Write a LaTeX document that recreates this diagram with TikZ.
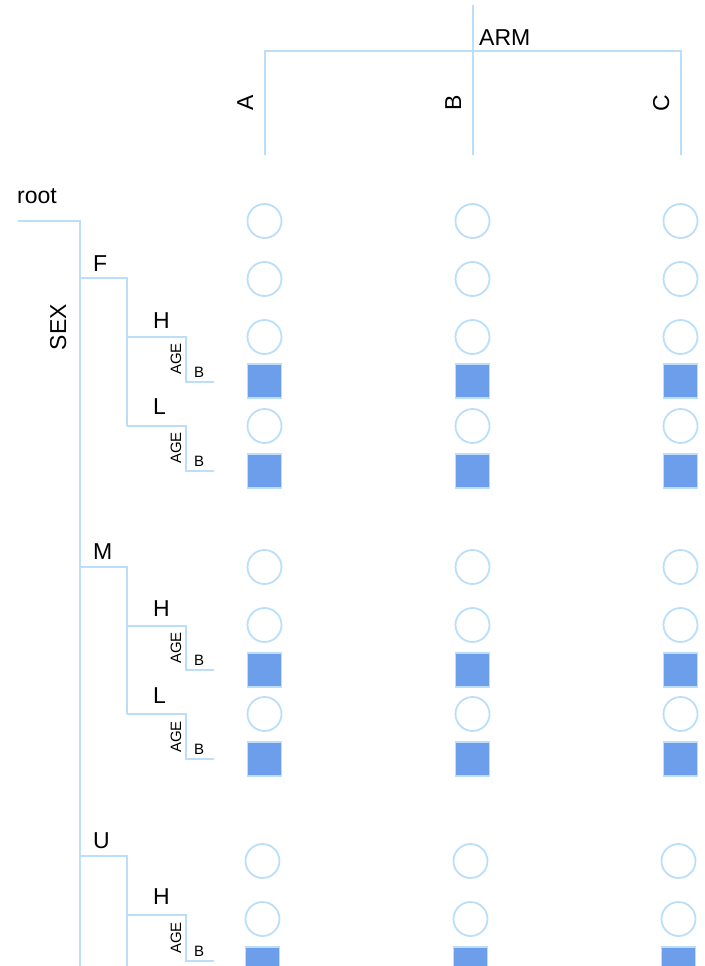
\documentclass[tikz,border=0pt]{standalone}
\usepackage{fontspec}
\setmainfont{Liberation Sans}
\definecolor{lineblue}{RGB}{187,222,251}
\definecolor{cellblue}{RGB}{109,158,235}
\tikzset{
  conn/.style={draw=lineblue, line width=2pt},
  lvl/.style={font=\fontsize{23}{27}\selectfont, inner sep=0pt, anchor=base west},
  sml/.style={font=\fontsize{15}{18}\selectfont, inner sep=0pt, anchor=base west},
  vlbl/.style={font=\fontsize{23}{27}\selectfont, inner sep=0pt, rotate=90, anchor=base},
  vsml/.style={font=\fontsize{15}{18}\selectfont, inner sep=0pt, rotate=90, anchor=base},
  emptycell/.style={circle, draw=lineblue, line width=1.8pt, fill=white, minimum size=34pt, inner sep=0pt},
  fullcell/.style={rectangle, draw=lineblue, line width=1.8pt, fill=cellblue, minimum size=34pt, inner sep=0pt}
}
\begin{document}
\begin{tikzpicture}[x=1pt,y=-1pt]
\useasboundingbox (0,0) rectangle (704,966);
\clip (0,0) rectangle (704,966);

% ---- column header ----
\coordinate (armtop) at (472.5,5);
\coordinate (armbot) at (472.5,155);
\coordinate (armL) at (264.5,51);
\coordinate (armR) at (680.5,51);
\coordinate (armLb) at (264.5,155);
\coordinate (armRb) at (680.5,155);
\draw[conn] (armtop) -- (armbot);
\draw[conn] (armLb) -- (armL) -- (armR) -- (armRb);
\node[lvl] (arm) at (479,46) {ARM};
\node[vlbl] (labA) at (253,103) {A};
\node[vlbl] (labB) at (461,103) {B};
\node[vlbl] (labC) at (669,103) {C};

% ---- row tree ----
\node[lvl] (root) at (17,203) {root};
\coordinate (r0) at (18,221);
\coordinate (r1) at (80,221);
\coordinate (rEnd) at (80,970);
\draw[conn] (r0) -- (r1) -- (rEnd);
\node[vlbl] (sex) at (66,327) {SEX};

% F section
\node[lvl] (lF) at (93,271) {F};
\coordinate (F0) at (80,278);
\coordinate (F1) at (126.5,278);
\coordinate (F2) at (126.5,426);
\draw[conn] (F0) -- (F1) -- (F2);
\node[lvl] (lFH) at (153,328) {H};
\coordinate (FH0) at (126.5,337);
\coordinate (FH1) at (186,337);
\coordinate (FH2) at (186,382);
\coordinate (FH3) at (214,382);
\draw[conn] (FH0) -- (FH1) -- (FH2) -- (FH3);
\node[vsml] (aFH) at (181,359) {AGE};
\node[sml] (bFH) at (194,377) {B};
\node[lvl] (lFL) at (153,414) {L};
\coordinate (FL0) at (126.5,426);
\coordinate (FL1) at (186,426);
\coordinate (FL2) at (186,471);
\coordinate (FL3) at (214,471);
\draw[conn] (FL0) -- (FL1) -- (FL2) -- (FL3);
\node[vsml] (aFL) at (181,448) {AGE};
\node[sml] (bFL) at (194,466) {B};

% M section
\node[lvl] (lM) at (93,559) {M};
\coordinate (M0) at (80,567);
\coordinate (M1) at (126.5,567);
\coordinate (M2) at (126.5,714);
\draw[conn] (M0) -- (M1) -- (M2);
\node[lvl] (lMH) at (153,616) {H};
\coordinate (MH0) at (126.5,626);
\coordinate (MH1) at (186,626);
\coordinate (MH2) at (186,670);
\coordinate (MH3) at (214,670);
\draw[conn] (MH0) -- (MH1) -- (MH2) -- (MH3);
\node[vsml] (aMH) at (181,648) {AGE};
\node[sml] (bMH) at (194,665) {B};
\node[lvl] (lML) at (153,703) {L};
\coordinate (ML0) at (126.5,714);
\coordinate (ML1) at (186,714);
\coordinate (ML2) at (186,759);
\coordinate (ML3) at (214,759);
\draw[conn] (ML0) -- (ML1) -- (ML2) -- (ML3);
\node[vsml] (aML) at (181,737) {AGE};
\node[sml] (bML) at (194,754) {B};

% U section
\node[lvl] (lU) at (93,848) {U};
\coordinate (U0) at (80,856);
\coordinate (U1) at (126.5,856);
\coordinate (U2) at (126.5,970);
\draw[conn] (U0) -- (U1) -- (U2);
\node[lvl] (lUH) at (153,904) {H};
\coordinate (UH0) at (126.5,915);
\coordinate (UH1) at (186,915);
\coordinate (UH2) at (186,961);
\coordinate (UH3) at (214,961);
\draw[conn] (UH0) -- (UH1) -- (UH2) -- (UH3);
\node[vsml] (aUH) at (181,938) {AGE};
\node[sml] (bUH) at (194,956) {B};

% ---- cells ----
\foreach \c/\x in {A/264.5,B/472.5,C/680.5} {
  \foreach \r/\y in {root/221,F/279,FH/337,FL/426,M/567,MH/625,ML/714}
    \node[emptycell] (c\c-\r) at (\x,\y) {};
  \foreach \r/\y in {FHB/381,FLB/471,MHB/670,MLB/759}
    \node[fullcell] (c\c-\r) at (\x,\y) {};
  \node[emptycell] (c\c-U) at (\x-2,861) {};
  \node[emptycell] (c\c-UH) at (\x-2,919) {};
  \node[fullcell] (c\c-UHB) at (\x-2,964) {};
}
\end{tikzpicture}
\end{document}
